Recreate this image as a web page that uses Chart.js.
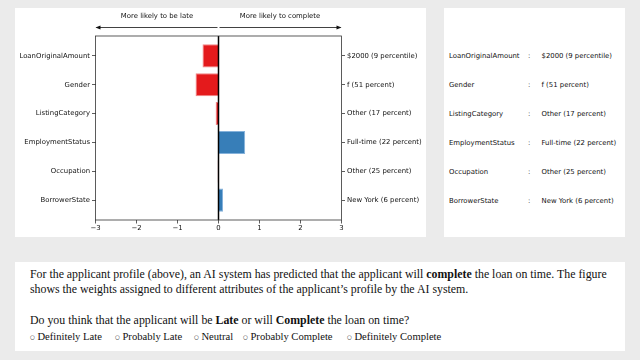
<!DOCTYPE html>
<html>
<head>
<meta charset="utf-8">
<script src="https://cdn.jsdelivr.net/npm/chart.js@4/dist/chart.umd.min.js"></script>
<style>
  body { margin: 0; background: #ebebeb; width: 640px; height: 360px; overflow: hidden; }
  .panel { position: absolute; background: #fff; }
  #plotPanel { left: 15px; top: 8px; width: 411px; height: 229px; }
  #tablePanel { left: 444px; top: 8px; width: 181px; height: 229px; }
  #textPanel { left: 15px; top: 262px; width: 610px; height: 89px; font-family: "Liberation Serif", "DejaVu Serif", serif; color: #111; }
  .cell { position: absolute; font-family: "DejaVu Sans", sans-serif; font-size: 6.9px; color: #111; transform: translateY(-50%); white-space: nowrap; }
  .line { position: absolute; left: 15px; white-space: nowrap; font-size: 11.85px; }
  .opts { position: absolute; left: 15px; top: 69px; font-size: 10.6px; white-space: nowrap; }
  .opts span { position: absolute; }
  .opts i { font-style: normal; font-family: "DejaVu Sans", sans-serif; font-size: 5.5px; position: relative; top: -1.5px; }
</style>
</head>
<body>
<div class="panel" id="plotPanel"><canvas id="chart" width="411" height="229"></canvas></div>
<div class="panel" id="tablePanel"></div>
<div class="panel" id="textPanel">
  <div class="line" style="top:5px">For the applicant profile (above), an AI system has predicted that the applicant will <b>complete</b> the loan on time. The figure</div>
  <div class="line" style="top:20px">shows the weights assigned to different attributes of the applicant’s profile by the AI system.</div>
  <div class="line" style="top:51px">Do you think that the applicant will be <b>Late</b> or will <b>Complete</b> the loan on time?</div>
  <div class="opts">
    <span style="left:0px"><i>○</i> Definitely Late</span>
    <span style="left:85px"><i>○</i> Probably Late</span>
    <span style="left:164px"><i>○</i> Neutral</span>
    <span style="left:213px"><i>○</i> Probably Complete</span>
    <span style="left:317px"><i>○</i> Definitely Complete</span>
  </div>
</div>
<script>
// attributes of the applicant and their weights
var attributes = ['LoanOriginalAmount', 'Gender', 'ListingCategory', 'EmploymentStatus', 'Occupation', 'BorrowerState'];
var attributeValues = ['$2000 (9 percentile)', 'f (51 percent)', 'Other (17 percent)', 'Full-time (22 percent)', 'Other (25 percent)', 'New York (6 percent)'];
var weights = [-0.39, -0.56, -0.07, 0.65, -0.02, 0.11];
var xTicks = [-3, -2, -1, 0, 1, 2, 3];

var RED = '#e41a1c';
var BLUE = '#377eb8';

var points = [];
var colors = [];
var edges = [];
for (var i = 0; i < weights.length; i++) {
    points.push({x: weights[i], y: i});
    colors.push(weights[i] < 0 ? RED : BLUE);
    edges.push(weights[i] < 0 ? 'rgba(240,120,120,0.9)' : 'rgba(120,170,215,0.9)');
}

var tickFont = {family: 'DejaVu Sans', size: 6.9};

function setRowTicks(scale) {
    scale.ticks = attributes.map(function (a, i) { return {value: i}; });
}

// frame, zero line and the arrows on top
var decorations = {
    id: 'decorations',
    afterDatasetsDraw: function (chart) {
        var ctx = chart.ctx;
        var area = chart.chartArea;
        var x0 = chart.scales.x.getPixelForValue(0);
        ctx.save();
        ctx.strokeStyle = '#000';
        ctx.lineWidth = 1.5;
        ctx.beginPath();
        ctx.moveTo(x0, area.top);
        ctx.lineTo(x0, area.bottom);
        ctx.stroke();
        ctx.strokeStyle = '#333';
        ctx.lineWidth = 0.8;
        ctx.strokeRect(area.left, area.top, area.right - area.left, area.bottom - area.top);

        var ay = area.top - 8.5;
        ctx.strokeStyle = '#111';
        ctx.fillStyle = '#111';
        ctx.lineWidth = 0.8;
        ctx.beginPath();
        ctx.moveTo(x0 - 1, ay);
        ctx.lineTo(area.left + 1, ay);
        ctx.moveTo(x0 + 1, ay);
        ctx.lineTo(area.right - 1, ay);
        ctx.stroke();
        ctx.beginPath();
        ctx.moveTo(area.left, ay);
        ctx.lineTo(area.left + 5, ay - 2);
        ctx.lineTo(area.left + 5, ay + 2);
        ctx.closePath();
        ctx.moveTo(area.right, ay);
        ctx.lineTo(area.right - 5, ay - 2);
        ctx.lineTo(area.right - 5, ay + 2);
        ctx.closePath();
        ctx.fill();

        ctx.font = '6.9px "DejaVu Sans"';
        ctx.textAlign = 'center';
        ctx.textBaseline = 'middle';
        ctx.fillText('More likely to be late', (area.left + x0) / 2, area.top - 20);
        ctx.fillText('More likely to complete', (area.right + x0) / 2, area.top - 20);
        ctx.restore();
    }
};

var rowAxis = {
    type: 'linear',
    reverse: true,
    offset: false,
    min: -0.69,
    max: 5.69,
    afterBuildTicks: setRowTicks,
    border: {display: false},
    grid: {offset: false, drawOnChartArea: false, tickLength: 3.5, tickColor: '#333', lineWidth: 0.8},
    ticks: {font: tickFont, color: '#111', padding: 2}
};

var chart = new Chart(document.getElementById('chart'), {
    type: 'bar',
    data: {
        datasets: [{
            data: points,
            backgroundColor: colors,
            borderColor: edges,
            borderWidth: 1,
            barPercentage: 1,
            categoryPercentage: 0.8,
            yAxisID: 'y'
        }]
    },
    options: {
        indexAxis: 'y',
        responsive: false,
        animation: false,
        layout: {padding: {top: 28, left: 0, right: 0, bottom: 0}},
        plugins: {legend: {display: false}, tooltip: {enabled: false}},
        scales: {
            x: {
                type: 'linear',
                min: -3,
                max: 3,
                afterBuildTicks: function (scale) {
                    scale.ticks = xTicks.map(function (v) { return {value: v}; });
                },
                afterFit: function (scale) { scale.height = 17; },
                border: {display: false},
                grid: {drawOnChartArea: false, tickLength: 3.5, tickColor: '#333', lineWidth: 0.8},
                ticks: {
                    font: tickFont, color: '#111', padding: 1, maxRotation: 0,
                    callback: function (v) { return String(v).replace('-', '\u2212'); }
                }
            },
            y: Object.assign({}, rowAxis, {
                position: 'left',
                afterFit: function (scale) { scale.width = 80.5; },
                ticks: Object.assign({}, rowAxis.ticks, {
                    callback: function (v) { return attributes[v]; }
                })
            }),
            y2: Object.assign({}, rowAxis, {
                position: 'right',
                afterFit: function (scale) { scale.width = 84.5; },
                ticks: Object.assign({}, rowAxis.ticks, {
                    callback: function (v) { return attributeValues[v]; }
                })
            })
        }
    },
    plugins: [decorations]
});

// the profile table on the right, rows lined up with the chart rows
var table = document.getElementById('tablePanel');
var yScale = chart.scales.y;
for (var r = 0; r < attributes.length; r++) {
    var rowY = yScale.getPixelForValue(r) + 0.5;
    var cells = [[5, attributes[r]], [84, ':'], [97.5, attributeValues[r]]];
    for (var c = 0; c < cells.length; c++) {
        var d = document.createElement('div');
        d.className = 'cell';
        d.style.left = cells[c][0] + 'px';
        d.style.top = rowY + 'px';
        d.textContent = cells[c][1];
        table.appendChild(d);
    }
}
</script>
</body>
</html>
